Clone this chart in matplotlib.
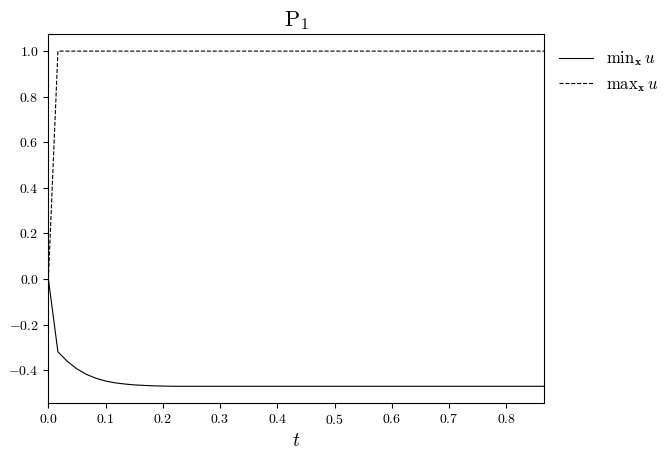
import numpy as np
import matplotlib
matplotlib.use("Agg")
import matplotlib.pyplot as plt
from matplotlib.ticker import FuncFormatter

plt.rcParams["font.family"] = "serif"
plt.rcParams["font.serif"] = ["cmr10"]
plt.rcParams["mathtext.fontset"] = "cm"
plt.rcParams["axes.formatter.use_mathtext"] = True

# time grid, dt = 1/60
t = np.arange(53) / 60.0

min_u = [0.0, -0.320, -0.362, -0.395, -0.419, -0.436, -0.448, -0.456, -0.461,
         -0.465, -0.467, -0.469, -0.470] + [-0.471] * 40
max_u = [0.0] + [1.0] * 52

fig, ax = plt.subplots(figsize=(6.72, 4.58), dpi=100)
ax.plot(t, min_u, color="black", lw=0.8, label=r"$\mathrm{min}_{\mathbf{x}}\, u$")
ax.plot(t, max_u, color="black", lw=0.8, ls="--", label=r"$\mathrm{max}_{\mathbf{x}}\, u$")
ax.set_xlim(0, t[-1])
ax.set_title(r"$\mathrm{P}_1$", fontsize=16)
ax.set_xlabel(r"$t$", fontsize=14)

fmt = FuncFormatter(lambda v, p: r"$%.1f$" % v)
ax.xaxis.set_major_formatter(fmt)
ax.yaxis.set_major_formatter(fmt)

ax.legend(loc="upper left", bbox_to_anchor=(1.0, 1.0), frameon=False, fontsize=12)
fig.subplots_adjust(left=0.072, right=0.81, top=0.925, bottom=0.12)
fig.savefig("out.png")
plt.close()
